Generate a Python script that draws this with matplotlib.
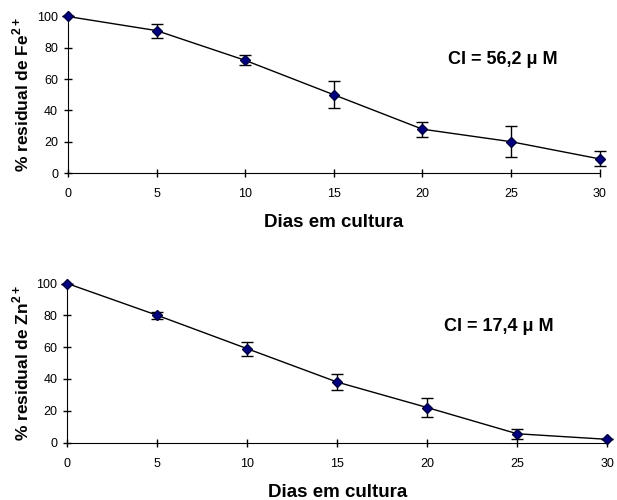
import numpy as np
import matplotlib
matplotlib.use('Agg')
import matplotlib.pyplot as plt

plt.rcParams['font.family'] = ['Liberation Sans', 'DejaVu Sans']
plt.rcParams['mathtext.fontset'] = 'custom'
plt.rcParams['mathtext.rm'] = 'Liberation Sans:bold'
plt.rcParams['mathtext.bf'] = 'Liberation Sans:bold'

days = [0, 5, 10, 15, 20, 25, 30]

fe_mean = [100, 91, 72, 50, 28, 20, 9]
fe_err = [0, 4.5, 3.3, 8.7, 4.8, 10, 4.8]

zn_mean = [100, 80, 59, 38, 22, 5.5, 2]
zn_err = [0, 2.3, 4.5, 5, 5.8, 3.3, 0]

panels = [
    (fe_mean, fe_err, r'% residual de Fe$^{\mathbf{2+}}$', 'CI = 56,2 μ M',
     [0.110, 0.654, 0.862, 0.313], (0.818, 0.724)),
    (zn_mean, zn_err, r'% residual de Zn$^{\mathbf{2+}}$', 'CI = 17,4 μ M',
     [0.109, 0.115, 0.875, 0.318], (0.80, 0.73)),
]

fig = plt.figure(figsize=(6.17, 5.0), dpi=100)

for mean, err, ylab, note, rect, pos in panels:
    ax = fig.add_axes(rect)
    ax.errorbar(days, mean, yerr=err, color='black', lw=1.0, ecolor='black',
                elinewidth=1.0, capsize=4, capthick=1.0,
                marker='D', markersize=5, markerfacecolor='#000080',
                markeredgecolor='#000040', clip_on=False, zorder=3)
    ax.set_xlim(0, 30)
    ax.set_ylim(0, 100)
    ax.set_xticks(days)
    ax.set_yticks([0, 20, 40, 60, 80, 100])
    ax.spines['top'].set_visible(False)
    ax.spines['right'].set_visible(False)
    ax.tick_params(direction='inout', length=6, width=1, labelsize=9, pad=4)
    ax.tick_params(axis='x', pad=8)
    ax.set_xlabel('Dias em cultura', fontsize=13.5, fontweight='bold', labelpad=10)
    ax.set_ylabel(ylab, fontsize=12.5, fontweight='bold', labelpad=4)
    ax.text(pos[0], pos[1], note, transform=ax.transAxes, fontsize=13,
            fontweight='bold', ha='center', va='center')

fig.savefig('out.png', dpi=100)
